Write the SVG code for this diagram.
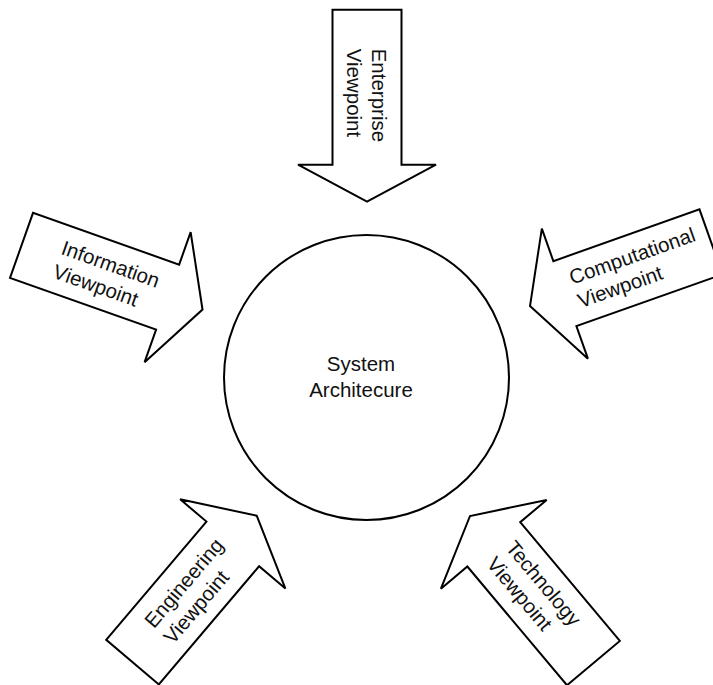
<svg xmlns="http://www.w3.org/2000/svg" xmlns:xlink="http://www.w3.org/1999/xlink" width="713" height="685" viewBox="0 0 713 685">
  <style>
    .shape { fill: #ffffff; stroke: #000000; stroke-width: 2; stroke-linejoin: miter; }
    .label { font-family: "Liberation Sans", Arial, Helvetica, sans-serif; font-size: 20.5px; fill: #111111; }
  </style>
  <defs>
    <!-- block arrow, tip at the origin, pointing along +x -->
    <path id="block-arrow" d="M0,0 L-37,-69 L-37,-34.5 L-192,-34.5 L-192,34.5 L-37,34.5 L-37,69 Z"/>
  </defs>
  <rect width="713" height="685" fill="#ffffff"/>

  <g id="system-architecture">
    <circle class="shape" cx="366.5" cy="377.5" r="142.5"/>
    <text class="label" text-anchor="middle" x="361" y="370.5">System</text>
    <text class="label" text-anchor="middle" x="361" y="396.5">Architecure</text>
  </g>

  <g id="enterprise-viewpoint" transform="translate(367,201.7) rotate(90)">
    <use href="#block-arrow" class="shape"/>
    <text class="label" x="-153" y="-5">Enterprise</text>
    <text class="label" x="-153" y="20">Viewpoint</text>
  </g>

  <g id="information-viewpoint" transform="translate(202.5,309.5) rotate(19.5)">
    <use href="#block-arrow" class="shape"/>
    <text class="label" x="-153" y="-5">Information</text>
    <text class="label" x="-153" y="20">Viewpoint</text>
  </g>

  <g id="computational-viewpoint" transform="translate(530,306) rotate(160.5)">
    <use href="#block-arrow" class="shape"/>
    <g transform="rotate(180)">
      <text class="label" x="47" y="-6">Computational</text>
      <text class="label" x="47" y="19">Viewpoint</text>
    </g>
  </g>

  <g id="engineering-viewpoint" transform="translate(256.7,515.7) rotate(-49.7)">
    <use href="#block-arrow" class="shape"/>
    <text class="label" x="-153" y="-5">Engineering</text>
    <text class="label" x="-153" y="20">Viewpoint</text>
  </g>

  <g id="technology-viewpoint" transform="translate(470,516) rotate(-130)">
    <use href="#block-arrow" class="shape"/>
    <g transform="rotate(180)">
      <text class="label" x="47" y="-6">Technology</text>
      <text class="label" x="47" y="19">Viewpoint</text>
    </g>
  </g>
</svg>
